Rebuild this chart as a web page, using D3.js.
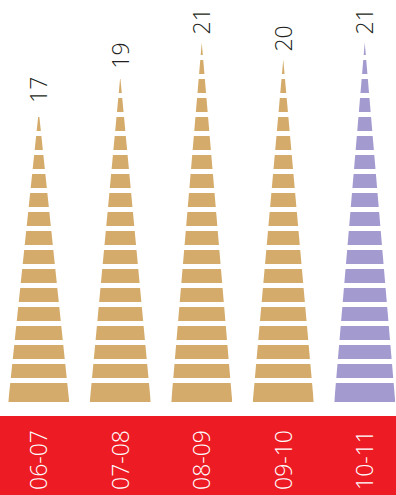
<!DOCTYPE html>
<html>
<head>
<meta charset="utf-8">
<script src="https://cdn.jsdelivr.net/npm/d3@7/dist/d3.min.js"></script>
<style>
  html, body { margin: 0; padding: 0; background: #fff; }
  svg { display: block; }
</style>
</head>
<body>
<div id="chart"></div>
<script>
// Seasons and their counts
const seasons = ["06-07", "07-08", "08-09", "09-10", "10-11"];
const counts = [17, 19, 21, 20, 21];
const fills = ["#d4ab6a", "#d4ab6a", "#d4ab6a", "#d4ab6a", "#a39bd0"];

const W = 396, H = 495;
const baseY = 402;          // foot of the spires
const bandTop = 416;        // red season strip
const spireWidth = 61;
const stripePitch = 19, stripeH = 14;

const svg = d3.select("#chart").append("svg")
  .attr("width", W).attr("height", H);

const x = d3.scalePoint().domain(seasons).range([-2, 405.5]).padding(0.5);
const y = d3.scaleLinear().domain([0, d3.max(counts)]).range([baseY, 42.5]);

const defs = svg.append("defs");

seasons.forEach((s, i) => {
  const cx = x(s), top = y(counts[i]);
  const id = "spire-" + i;
  defs.append("clipPath").attr("id", id)
    .append("path")
    .attr("d", `M${cx - spireWidth / 2},${baseY} L${cx},${top} L${cx + spireWidth / 2},${baseY} Z`);

  // horizontal bands stacked from the foot upward, trimmed to the spire outline
  const nBands = Math.ceil((baseY - top) / stripePitch) + 1;
  const g = svg.append("g").attr("clip-path", `url(#${id})`);
  g.selectAll("rect").data(d3.range(nBands)).join("rect")
    .attr("x", cx - spireWidth / 2)
    .attr("width", spireWidth)
    .attr("y", k => baseY - stripePitch - stripePitch * k)
    .attr("height", k => k === 0 ? stripePitch : stripeH)
    .attr("fill", fills[i]);

  svg.append("text")
    .attr("transform", `translate(${cx},${top - 8}) rotate(-90)`)
    .attr("dy", "0.36em")
    .attr("text-anchor", "start")
    .attr("font-family", "'Open Sans', sans-serif")
    .attr("font-weight", 300)
    .attr("font-size", 23)
    .attr("fill", "#231f20")
    .text(counts[i]);
});

svg.append("rect")
  .attr("x", 0).attr("y", bandTop)
  .attr("width", W).attr("height", H - bandTop)
  .attr("fill", "#ed1c24");

svg.selectAll("text.season").data(seasons).join("text")
  .attr("class", "season")
  .attr("transform", d => `translate(${x(d)},460) rotate(-90)`)
  .attr("dy", "0.36em")
  .attr("text-anchor", "middle")
  .attr("font-family", "'Open Sans', sans-serif")
  .attr("font-weight", 300)
  .attr("font-size", 23)
  .attr("fill", "#fff")
  .text(d => d);
</script>
</body>
</html>
